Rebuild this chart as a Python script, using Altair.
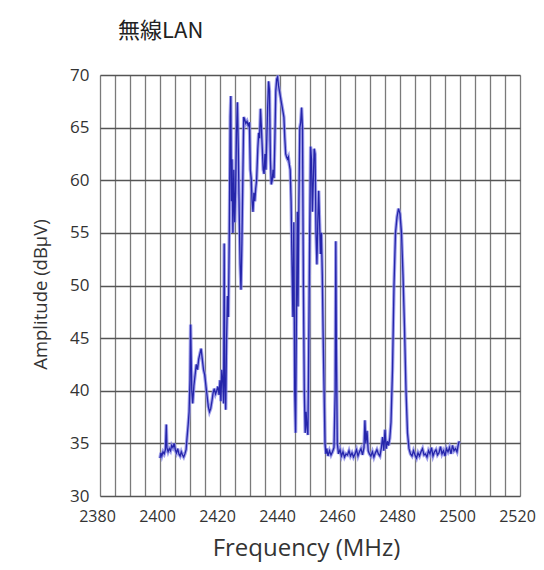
import altair as alt
import pandas as pd

freq = [
    2400.0, 2400.3, 2400.6, 2401.0, 2401.4, 2401.8, 2402.1, 2402.3, 2402.7, 2403.1,
    2403.5, 2403.9, 2404.3, 2404.7, 2405.1, 2405.5, 2405.9, 2406.3, 2406.7, 2407.1,
    2407.5, 2407.9, 2408.3, 2408.7, 2409.0, 2409.4, 2409.7, 2410.0, 2410.2, 2410.4,
    2410.6, 2410.9, 2411.3, 2411.7, 2412.1, 2412.5, 2412.9, 2413.3, 2413.7, 2414.1,
    2414.5, 2414.9, 2415.3, 2415.7, 2416.1, 2416.5, 2416.9, 2417.3, 2417.7, 2418.1,
    2418.5, 2418.9, 2419.3, 2419.7, 2420.0, 2420.3, 2420.6, 2420.9, 2421.2, 2421.4,
    2421.6, 2421.9, 2422.2, 2422.5, 2422.8, 2423.1, 2423.4, 2423.6, 2423.8, 2424.0,
    2424.3, 2424.6, 2424.9, 2425.2, 2425.5, 2425.8, 2426.1, 2426.4, 2426.7, 2427.0,
    2427.3, 2427.6, 2427.9, 2428.2, 2428.6, 2429.0, 2429.4, 2429.8, 2430.1, 2430.4,
    2430.7, 2431.0, 2431.3, 2431.6, 2431.9, 2432.2, 2432.6, 2432.9, 2433.2, 2433.5,
    2433.8, 2434.1, 2434.4, 2434.7, 2435.0, 2435.3, 2435.6, 2435.9, 2436.2, 2436.5,
    2436.8, 2437.1, 2437.4, 2437.7, 2438.0, 2438.3, 2438.6, 2438.9, 2439.2, 2439.5,
    2439.8, 2440.1, 2440.4, 2440.7, 2441.0, 2441.3, 2441.6, 2441.9, 2442.2, 2442.5,
    2442.8, 2443.1, 2443.4, 2443.7, 2444.0, 2444.3, 2444.6, 2444.9, 2445.2, 2445.5,
    2445.8, 2446.0, 2446.3, 2446.6, 2446.9, 2447.2, 2447.5, 2447.8, 2448.1, 2448.4,
    2448.7, 2449.0, 2449.3, 2449.6, 2449.9, 2450.2, 2450.5, 2450.8, 2451.1, 2451.4,
    2451.7, 2452.0, 2452.3, 2452.6, 2452.9, 2453.2, 2453.5, 2453.8, 2454.1, 2454.4,
    2454.7, 2455.0, 2455.3, 2455.6, 2456.0, 2456.5, 2457.0, 2457.5, 2458.0, 2458.4,
    2458.6, 2458.8, 2459.1, 2459.5, 2460.0, 2460.5, 2461.0, 2461.5, 2462.0, 2462.5,
    2463.0, 2463.5, 2464.0, 2464.5, 2465.0, 2465.5, 2466.0, 2466.5, 2467.0, 2467.5,
    2468.0, 2468.3, 2468.6, 2469.0, 2469.4, 2469.8, 2470.3, 2470.8, 2471.3, 2471.8,
    2472.3, 2472.8, 2473.3, 2473.8, 2474.2, 2474.6, 2475.0, 2475.4, 2475.8, 2476.2,
    2476.6, 2477.0, 2477.5, 2478.0, 2478.5, 2479.0, 2479.5, 2480.0, 2480.5, 2481.0,
    2481.5, 2482.0, 2482.5, 2483.0, 2483.5, 2484.0, 2484.5, 2485.0, 2485.5, 2486.0,
    2486.5, 2487.0, 2487.5, 2488.0, 2488.5, 2489.0, 2489.5, 2490.0, 2490.5, 2491.0,
    2491.5, 2492.0, 2492.5, 2493.0, 2493.5, 2494.0, 2494.5, 2495.0, 2495.5, 2496.0,
    2496.5, 2497.0, 2497.5, 2498.0, 2498.5, 2499.0, 2499.5, 2499.8,
]

amp = [
    33.6, 34.1, 33.8, 34.2, 34.0, 34.4, 36.8, 34.6, 34.2, 34.5,
    34.3, 34.8, 34.6, 35.0, 34.4, 34.1, 34.5, 34.0, 33.8, 34.2,
    33.9, 33.7, 34.0, 34.4, 35.5, 36.8, 38.0, 41.0, 46.3, 43.0,
    40.0, 38.8, 40.5, 41.5, 42.5, 42.0, 43.0, 43.5, 44.0, 43.0,
    42.0, 41.5, 40.5, 39.5, 38.5, 38.0, 38.3, 39.0, 39.8, 40.2,
    39.7, 40.0, 40.4, 39.6, 41.0, 39.0, 42.0, 41.0, 38.8, 54.0,
    41.0, 38.2, 45.0, 49.0, 47.0, 55.0, 66.0, 68.0, 58.0, 62.0,
    55.0, 61.0, 56.0, 59.0, 64.5, 67.4, 63.0, 57.0, 52.0, 49.6,
    54.0, 60.0, 66.0, 65.8, 65.4, 65.6, 65.2, 65.5, 61.0, 60.2,
    58.0, 57.0, 58.8, 58.0, 59.2, 60.0, 63.0, 64.5, 64.0, 66.8,
    65.0, 63.0, 61.0, 60.6, 62.5, 61.0, 64.0, 67.0, 69.4, 68.5,
    62.0, 59.6, 60.0, 61.0, 60.2, 64.0, 68.5, 69.6, 69.8, 69.0,
    68.5, 68.0, 67.5, 67.0, 66.5, 66.0, 64.0, 62.5, 62.2, 62.0,
    62.2, 61.5, 61.0, 58.0, 52.0, 47.0, 56.0, 40.0, 36.0, 48.0,
    57.0, 48.0, 58.0, 65.0, 65.5, 66.9, 65.0, 50.0, 40.0, 36.0,
    38.0, 36.5, 35.8, 45.0, 55.0, 63.2, 62.0, 57.0, 60.0, 63.0,
    62.5, 55.0, 52.0, 56.0, 59.0, 56.0, 53.0, 55.0, 51.0, 45.0,
    40.0, 35.0, 34.0, 34.5, 33.8, 34.3, 33.9, 34.2, 34.6, 40.0,
    54.2, 44.0, 35.0, 34.0, 34.4, 33.8, 34.2, 33.7, 34.0, 33.9,
    34.3, 33.8, 34.1, 33.7, 34.0, 34.4, 33.8, 34.2, 34.5, 33.9,
    34.6, 37.2, 35.0, 36.2, 34.3, 34.0, 33.8, 34.2, 33.7, 34.1,
    34.4, 34.0, 33.8, 34.6, 35.6, 34.3, 36.3, 34.5, 35.2, 34.8,
    35.5, 37.0, 42.0, 50.0, 55.0, 56.5, 57.3, 56.8, 55.0, 51.0,
    46.0, 40.0, 36.0, 34.5, 34.0, 33.8, 34.3, 33.9, 33.6, 34.1,
    33.8, 34.2, 34.5, 33.9, 34.0, 33.7, 34.3, 34.0, 34.6, 33.8,
    34.2, 34.4, 33.9, 34.1, 34.7, 34.0, 34.3, 33.8, 34.5, 34.2,
    34.6, 34.0, 34.8, 34.3, 34.5, 34.2, 35.0, 35.2,
]

x_ticks = list(range(2380, 2521, 5))
y_ticks = list(range(30, 71, 5))

df = pd.DataFrame({"freq": freq, "amp": amp, "order": list(range(len(freq)))})

x_enc = alt.X(
    "freq:Q",
    scale=alt.Scale(domain=[2380, 2520], nice=False, zero=False),
    axis=alt.Axis(
        title="Frequency (MHz)",
        values=x_ticks,
        labelExpr="datum.value % 20 == 0 ? datum.label : ''",
        format="d",
        grid=True,
        gridColor="#7a7a7a",
        gridWidth=1.3,
        ticks=False,
        domain=False,
        labelFont="Open Sans",
        labelFontSize=16,
        labelColor="#333333",
        labelPadding=12,
        labelOffset=-3,
        labelFlush=False,
        titleFont="Open Sans",
        titleFontSize=24,
        titleFontWeight="normal",
        titleColor="#333333",
        titlePadding=12,
        titleX=206,
    ),
)

y_enc = alt.Y(
    "amp:Q",
    scale=alt.Scale(domain=[30, 70], nice=False, zero=False),
    axis=alt.Axis(
        title="Amplitude (dBμV)",
        values=y_ticks,
        grid=True,
        gridColor="#555555",
        gridWidth=1.3,
        ticks=False,
        domain=False,
        labelFont="Open Sans",
        labelFontSize=17,
        labelColor="#333333",
        labelPadding=11,
        labelFlush=False,
        titleFont="Open Sans",
        titleFontSize=18.5,
        titleFontWeight="normal",
        titleColor="#333333",
        titlePadding=19,
        titleY=219,
    ),
)

base = alt.Chart(df).encode(x=x_enc, y=y_enc, order="order:Q")

pale = base.mark_line(color="#8a8ae6", strokeWidth=3.4, opacity=0.8, clip=True)
dark = base.mark_line(color="#2525aa", strokeWidth=1.3, clip=True)

chart = (
    alt.layer(pale, dark)
    .properties(
        width=420,
        height=421,
        title=alt.TitleParams(
            "無線LAN",
            anchor="start",
            frame="group",
            font="Noto Sans CJK JP",
            fontSize=22,
            fontWeight="normal",
            color="#222222",
            dx=18,
            offset=23,
        ),
        padding={"left": 92, "top": 67, "right": 16, "bottom": 66},
        autosize=alt.AutoSizeParams(type="none"),
    )
    .configure_view(stroke="#444444", strokeWidth=1.5)
    .configure(background="white")
)

chart.save("out.html", embed_options={"renderer": "svg", "actions": False})
